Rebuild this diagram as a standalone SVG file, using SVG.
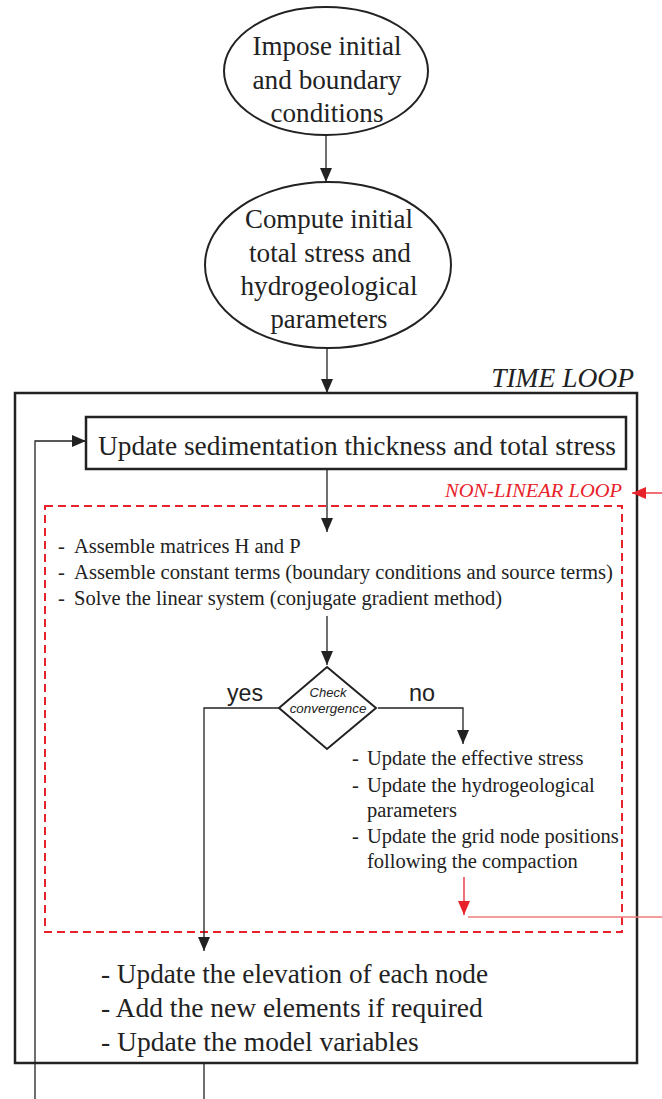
<svg xmlns="http://www.w3.org/2000/svg" width="662" height="1099" viewBox="0 0 662 1099">
  <defs>
    <marker id="ab" markerUnits="userSpaceOnUse" markerWidth="14" markerHeight="12" refX="14" refY="6" orient="auto">
      <path d="M0,0 L14,6 L0,12 z" fill="#222"/>
    </marker>
    <marker id="ar" markerUnits="userSpaceOnUse" markerWidth="14" markerHeight="12" refX="14" refY="6" orient="auto">
      <path d="M0,0 L14,6 L0,12 z" fill="#e8222a"/>
    </marker>
  </defs>
  <style>
    .serif { font-family: "Liberation Serif", "Times New Roman", serif; fill: #222; }
    .big { font-size: 27.5px; }
    .mid { font-size: 20.5px; }
    .shape { fill: #fff; stroke: #222; stroke-width: 2; }
    .conn { fill: none; stroke: #222; stroke-width: 1.3; }
    .sans { font-family: "Liberation Sans", Arial, sans-serif; fill: #222; }
  </style>
  <rect width="662" height="1099" fill="#fff"/>

  <g id="time-loop">
    <rect x="15" y="393" width="622" height="670" fill="none" stroke="#222" stroke-width="2.5"/>
    <text class="serif" x="634" y="387" font-size="27.5" font-style="italic" text-anchor="end">TIME LOOP</text>
  </g>

  <g id="nonlinear-loop">
    <rect x="45" y="506" width="577" height="426" fill="none" stroke="#e8222a" stroke-width="2" stroke-dasharray="8,5"/>
    <text x="622" y="497" font-family="Liberation Serif, serif" font-size="19.5" font-style="italic" fill="#e8222a" text-anchor="end" textLength="177" lengthAdjust="spacingAndGlyphs">NON-LINEAR LOOP</text>
  </g>

  <g id="connectors">
    <path class="conn" d="M326,135 V182" marker-end="url(#ab)"/>
    <path class="conn" d="M327,348 V393" marker-end="url(#ab)"/>
    <path class="conn" d="M327,469 V532" marker-end="url(#ab)"/>
    <path class="conn" d="M327,616 V665" marker-end="url(#ab)"/>
    <path class="conn" d="M279,708 H204 V951" marker-end="url(#ab)"/>
    <path class="conn" d="M378,708 H463 V744" marker-end="url(#ab)"/>
    <path class="conn" d="M35,1099 V441 H86" marker-end="url(#ab)"/>
    <path class="conn" d="M204,1063 V1099"/>
    <path fill="none" stroke="#e8222a" stroke-width="1.3" d="M464,877 V915" marker-end="url(#ar)"/>
    <path fill="none" stroke="#e8222a" stroke-width="1.3" d="M662,493 H632" marker-end="url(#ar)"/>
    <path fill="none" stroke="#f07a7a" stroke-width="1.5" d="M468,917 H662"/>
  </g>

  <g id="impose">
    <ellipse class="shape" cx="326" cy="71" rx="102" ry="64"/>
    <text class="serif big" x="327" y="55" text-anchor="middle" textLength="149" lengthAdjust="spacingAndGlyphs">Impose initial</text>
    <text class="serif big" x="327" y="89" text-anchor="middle" textLength="149" lengthAdjust="spacingAndGlyphs">and boundary</text>
    <text class="serif big" x="327" y="122" text-anchor="middle" textLength="113" lengthAdjust="spacingAndGlyphs">conditions</text>
  </g>

  <g id="compute">
    <ellipse class="shape" cx="328" cy="265" rx="123" ry="83"/>
    <text class="serif big" x="329" y="228" text-anchor="middle" textLength="168" lengthAdjust="spacingAndGlyphs">Compute initial</text>
    <text class="serif big" x="330" y="262" text-anchor="middle" textLength="162" lengthAdjust="spacingAndGlyphs">total stress and</text>
    <text class="serif big" x="329" y="295" text-anchor="middle" textLength="177" lengthAdjust="spacingAndGlyphs">hydrogeological</text>
    <text class="serif big" x="329" y="328" text-anchor="middle" textLength="117" lengthAdjust="spacingAndGlyphs">parameters</text>
  </g>

  <g id="update-sed">
    <rect x="86" y="417" width="540" height="52" fill="#fff" stroke="#222" stroke-width="2.5"/>
    <text class="serif" x="98" y="455" font-size="28" textLength="518" lengthAdjust="spacingAndGlyphs">Update sedimentation thickness and total stress</text>
  </g>

  <g id="assemble">
    <text class="serif mid" x="58" y="553">-</text>
    <text class="serif mid" x="74" y="553">Assemble matrices H and P</text>
    <text class="serif mid" x="58" y="579">-</text>
    <text class="serif mid" x="74" y="579" textLength="539" lengthAdjust="spacingAndGlyphs">Assemble constant terms (boundary conditions and source terms)</text>
    <text class="serif mid" x="58" y="605">-</text>
    <text class="serif mid" x="74" y="605">Solve the linear system (conjugate gradient method)</text>
  </g>

  <g id="check">
    <polygon points="327,667 376,708 327,749 279,708" fill="#fff" stroke="#222" stroke-width="2"/>
    <text class="sans" x="328" y="697" font-size="13" font-style="italic" text-anchor="middle">Check</text>
    <text class="sans" x="328" y="713" font-size="13.4" font-style="italic" text-anchor="middle">convergence</text>
    <text class="sans" x="227" y="701" font-size="24" textLength="36" lengthAdjust="spacingAndGlyphs">yes</text>
    <text class="sans" x="409" y="701" font-size="24" textLength="26" lengthAdjust="spacingAndGlyphs">no</text>
  </g>

  <g id="update-eff">
    <text class="serif mid" x="352" y="765">-</text>
    <text class="serif mid" x="367" y="765">Update the effective stress</text>
    <text class="serif mid" x="352" y="792">-</text>
    <text class="serif mid" x="367" y="792">Update the hydrogeological</text>
    <text class="serif mid" x="367" y="817">parameters</text>
    <text class="serif mid" x="352" y="843">-</text>
    <text class="serif mid" x="367" y="843">Update the grid node positions</text>
    <text class="serif mid" x="367" y="868">following the compaction</text>
  </g>

  <g id="update-elev">
    <text class="serif" x="101" y="983" font-size="27.5" textLength="387" lengthAdjust="spacingAndGlyphs">- Update the elevation of each node</text>
    <text class="serif" x="101" y="1017" font-size="27.5">- Add the new elements if required</text>
    <text class="serif" x="101" y="1051" font-size="27.5">- Update the model variables</text>
  </g>
</svg>
